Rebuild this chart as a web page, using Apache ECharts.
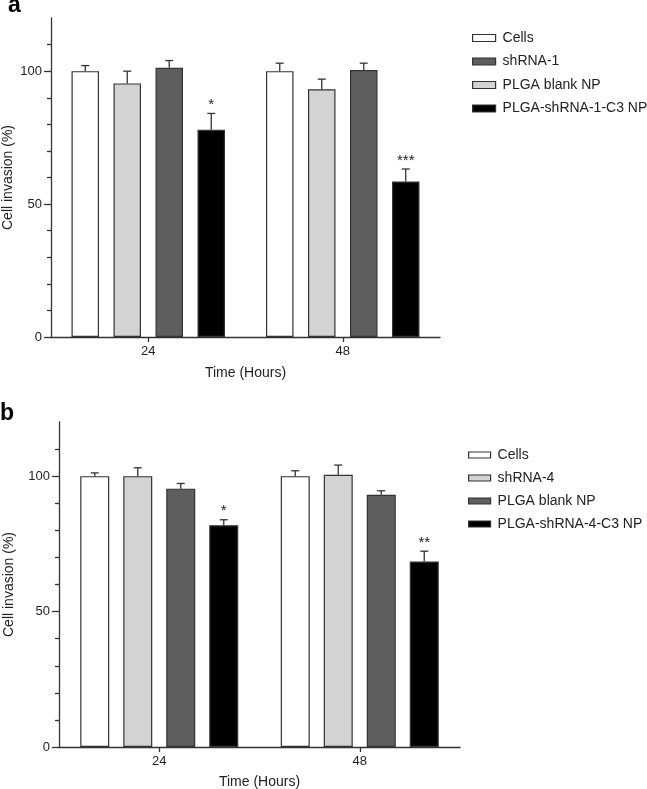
<!DOCTYPE html>
<html><head><meta charset="utf-8">
<script src="https://cdn.jsdelivr.net/npm/echarts@6/dist/echarts.min.js"></script>
<style>html,body{margin:0;padding:0;background:#fff}#c{width:647px;height:789px}</style>
</head><body><div id="c"></div>
<script>
// ---------- data ----------
const categories = ['24', '48'];
const yTickLabels = [0, 50, 100];
const yMinorTicks = [10, 20, 30, 40, 60, 70, 80, 90, 110];

// Panel a (bar drawing order: white, light, dark, black)
const legendA = ['Cells', 'shRNA-1', 'PLGA blank NP', 'PLGA-shRNA-1-C3 NP'];
const cellsA = [100, 100];
const cellsAErr = [2.1, 3.0];
const plgaBlankA = [95.4, 93.2];
const plgaBlankAErr = [4.6, 3.8];
const shRNA1A = [101.3, 100.4];
const shRNA1AErr = [2.7, 2.6];
const plgaShRNA1A = [78.0, 58.5];
const plgaShRNA1AErr = [6.1, 4.7];
const starsA = ['*', '***'];

// Panel b
const legendB = ['Cells', 'shRNA-4', 'PLGA blank NP', 'PLGA-shRNA-4-C3 NP'];
const cellsB = [100, 100];
const cellsBErr = [1.2, 2.0];
const shRNA4B = [100, 100.5];
const shRNA4BErr = [3.1, 3.6];
const plgaBlankB = [95.4, 93.1];
const plgaBlankBErr = [1.9, 1.5];
const plgaShRNA4B = [81.9, 68.5];
const plgaShRNA4BErr = [2.0, 3.8];
const starsB = ['*', '**'];

// ---------- styles ----------
const WHITE = '#ffffff', LIGHT = '#d3d3d3', DARK = '#5e5e5e', BLACK = '#000000';
const EDGE = '#333333';
const TXT = '#222222';
const FONT = '"Liberation Sans", Arial, Helvetica, sans-serif';

const panelA = {
  grid: 0, bw: 27.5, gap: 14.5,
  series: [
    {name: 'Cells', color: WHITE, vals: cellsA, err: cellsAErr},
    {name: 'PLGA blank NP', color: LIGHT, vals: plgaBlankA, err: plgaBlankAErr},
    {name: 'shRNA-1', color: DARK, vals: shRNA1A, err: shRNA1AErr},
    {name: 'PLGA-shRNA-1-C3 NP', color: BLACK, vals: plgaShRNA1A, err: plgaShRNA1AErr, stars: starsA}
  ]
};
const panelB = {
  grid: 1, bw: 29, gap: 14,
  series: [
    {name: 'Cells', color: WHITE, vals: cellsB, err: cellsBErr},
    {name: 'shRNA-4', color: LIGHT, vals: shRNA4B, err: shRNA4BErr},
    {name: 'PLGA blank NP', color: DARK, vals: plgaBlankB, err: plgaBlankBErr},
    {name: 'PLGA-shRNA-4-C3 NP', color: BLACK, vals: plgaShRNA4B, err: plgaShRNA4BErr, stars: starsB}
  ]
};

function errRenderer(pos, bw, gap, n, stars) {
  return function (params, api) {
    const ci = api.value(0), m = api.value(1), e = api.value(2);
    const base = api.coord([ci, m]);
    const top = api.coord([ci, m + e]);
    const total = n * bw + (n - 1) * gap;
    const x = base[0] - total / 2 + bw / 2 + pos * (bw + gap);
    const st = {stroke: EDGE, lineWidth: 1.3};
    const children = [
      {type: 'line', shape: {x1: x, y1: base[1], x2: x, y2: top[1]}, style: st},
      {type: 'line', shape: {x1: x - 4, y1: top[1], x2: x + 4, y2: top[1]}, style: st}
    ];
    if (stars) {
      children.push({type: 'text', x: x, y: top[1] - 1,
        style: {text: stars[params.dataIndex], fill: TXT, font: '15px ' + FONT,
          align: 'center', verticalAlign: 'bottom'}});
    }
    return {type: 'group', children: children};
  };
}

function buildSeries(panel) {
  const out = [];
  const n = panel.series.length;
  panel.series.forEach(function (s, i) {
    out.push({
      type: 'bar', name: s.name, xAxisIndex: panel.grid, yAxisIndex: panel.grid * 2,
      data: s.vals, barWidth: panel.bw, barGap: (panel.gap / panel.bw * 100) + '%',
      itemStyle: {color: s.color, borderColor: EDGE, borderWidth: 1.2},
      emphasis: {disabled: true}, z: 2
    });
  });
  panel.series.forEach(function (s, i) {
    out.push({
      type: 'custom', xAxisIndex: panel.grid, yAxisIndex: panel.grid * 2,
      data: s.vals.map(function (v, k) { return [k, v, s.err[k]]; }),
      encode: {x: 0, y: 1},
      renderItem: errRenderer(i, panel.bw, panel.gap, n, s.stars),
      z: 3, silent: true
    });
  });
  return out;
}

function legendData(panel, order) {
  return order.map(function (nm) {
    const s = panel.series.find(function (q) { return q.name === nm; });
    return {name: nm, itemStyle: {color: s.color, borderColor: EDGE, borderWidth: 1.2}};
  });
}

const axisLineStyle = {color: EDGE, width: 1.3};

function xAxisFor(gi, nameGap) {
  return {
    type: 'category', gridIndex: gi, data: categories,
    axisLine: {show: true, lineStyle: axisLineStyle},
    axisTick: {show: true, alignWithLabel: true, length: 5, lineStyle: axisLineStyle},
    axisLabel: {fontSize: 13, color: TXT, margin: 8, fontFamily: FONT},
    name: 'Time (Hours)', nameLocation: 'middle', nameGap: nameGap, nameMoveOverlap: false,
    nameTextStyle: {fontSize: 14, color: TXT, fontFamily: FONT, verticalAlign: 'top'},
    splitLine: {show: false}
  };
}
function yAxesFor(gi, nameGap) {
  return [{
    type: 'value', gridIndex: gi, min: 0, max: 120, interval: 10, position: 'left',
    axisLine: {show: true, lineStyle: axisLineStyle},
    axisTick: {show: true, length: 7, customValues: yTickLabels, lineStyle: axisLineStyle},
    axisLabel: {customValues: yTickLabels, fontSize: 13, color: TXT, margin: 9, fontFamily: FONT},
    splitLine: {show: false},
    name: 'Cell invasion (%)', nameLocation: 'middle', nameGap: nameGap, nameMoveOverlap: false,
    nameTextStyle: {fontSize: 14, color: TXT, fontFamily: FONT}
  }, {
    type: 'value', gridIndex: gi, min: 0, max: 120, interval: 10, position: 'left', offset: 0,
    axisLine: {show: false},
    axisTick: {show: true, length: 4, customValues: yMinorTicks, lineStyle: axisLineStyle},
    axisLabel: {show: false},
    splitLine: {show: false}
  }];
}

const option = {
  animation: false,
  backgroundColor: '#ffffff',
  textStyle: {fontFamily: FONT},
  grid: [
    {left: 51, top: 18, width: 389, height: 319, containLabel: false, outerBoundsMode: 'none'},
    {left: 59, top: 422, width: 401, height: 325, containLabel: false, outerBoundsMode: 'none'}
  ],
  xAxis: [xAxisFor(0, 29), xAxisFor(1, 28)],
  yAxis: yAxesFor(0, 36).concat(yAxesFor(1, 43)),
  legend: [{
    orient: 'vertical', left: 467, top: 26, itemWidth: 23, itemHeight: 7, itemGap: 9.5,
    icon: 'rect', data: legendData(panelA, legendA), selectedMode: false,
    textStyle: {fontSize: 14, color: TXT, fontFamily: FONT, padding: [0, 0, 0, 2]}
  }, {
    orient: 'vertical', left: 463, top: 443, itemWidth: 22, itemHeight: 6, itemGap: 9,
    icon: 'rect', data: legendData(panelB, legendB), selectedMode: false,
    textStyle: {fontSize: 14, color: TXT, fontFamily: FONT, padding: [0, 0, 0, 2]}
  }],
  graphic: [
    {type: 'text', left: 8, top: -6, style: {text: 'a', font: 'bold 23px ' + FONT, fill: '#000'}},
    {type: 'text', left: 0, top: 402, style: {text: 'b', font: 'bold 23px ' + FONT, fill: '#000'}}
  ],
  series: buildSeries(panelA).concat(buildSeries(panelB))
};

const chart = echarts.init(document.getElementById('c'), null, {renderer: 'canvas'});
chart.setOption(option);
</script>
</body></html>
